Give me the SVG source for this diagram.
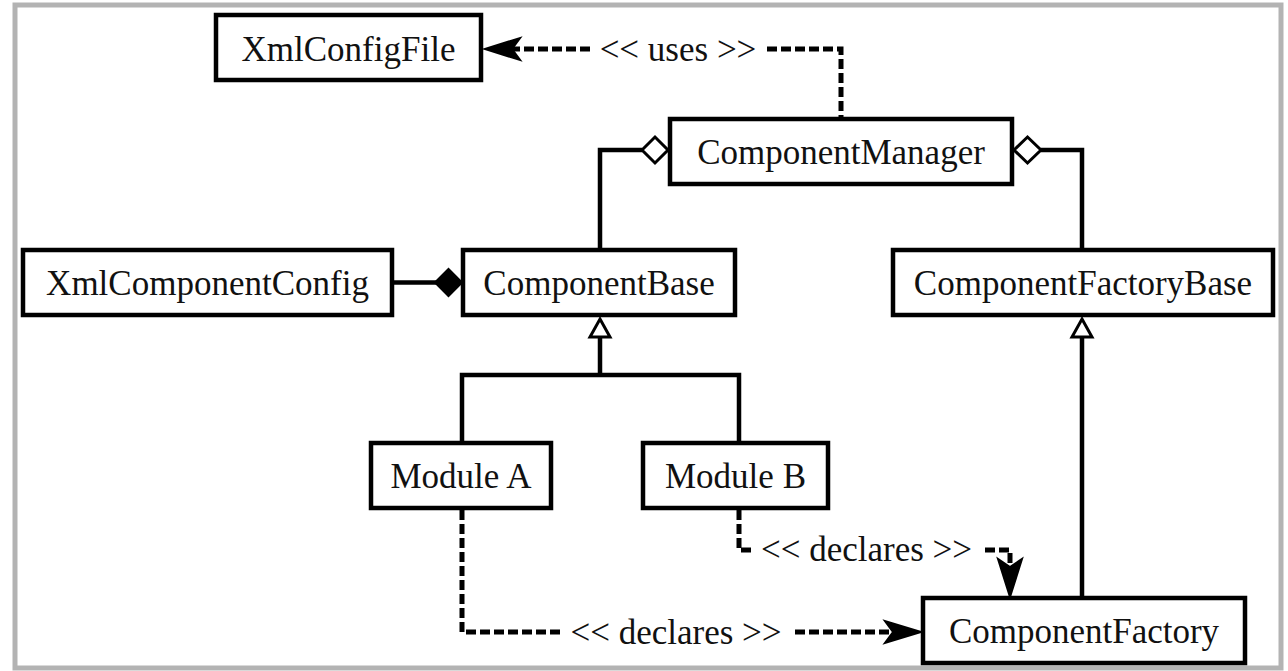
<svg xmlns="http://www.w3.org/2000/svg" width="1288" height="671" viewBox="0 0 1288 671">
<style>
.box{fill:#fff;stroke:#000;stroke-width:4.5}
.lbl{font-family:"Liberation Serif","Times New Roman",serif;font-size:35px;fill:#111;text-anchor:middle}
.solid{fill:none;stroke:#000;stroke-width:4.5}
.dash{fill:none;stroke:#000;stroke-width:5;stroke-dasharray:10 4}
.hollow{fill:#fff;stroke:#000;stroke-width:3}
.filled{fill:#000;stroke:#000;stroke-width:2}
</style>
<rect x="0" y="0" width="1288" height="671" fill="#fff"/>
<rect x="15" y="5" width="1266" height="663" fill="#fff" stroke="#b3b3b3" stroke-width="5"/>

<g id="connectors">
  <!-- uses -->
  <polyline class="dash" points="767,49 841,49 841,117"/>
  <line class="dash" x1="590" y1="49" x2="512" y2="49"/>
  <path class="filled" d="M485,49 L520,38 L512,49 L520,60 Z"/>
  <text class="lbl" x="678" y="61">&lt;&lt; uses &gt;&gt;</text>
  <!-- aggregation ComponentManager - ComponentBase -->
  <polyline class="solid" points="642,150 600,150 600,250"/>
  <polygon class="hollow" points="642,150 655,137 668,150 655,163"/>
  <!-- aggregation ComponentManager - ComponentFactoryBase -->
  <polyline class="solid" points="1041,150 1082,150 1082,250"/>
  <polygon class="hollow" points="1014,150 1027.5,137 1041,150 1027.5,163"/>
  <!-- composition XmlComponentConfig - ComponentBase -->
  <line class="solid" x1="392" y1="282.5" x2="436" y2="282.5"/>
  <polygon class="filled" points="435,282.5 448.5,269 462,282.5 448.5,296"/>
  <!-- generalization modules -> ComponentBase -->
  <polyline class="solid" points="462,443 462,375 739,375 739,443"/>
  <line class="solid" x1="600" y1="375" x2="600" y2="336"/>
  <polygon class="hollow" points="600,319 610,337 590,337"/>
  <!-- generalization ComponentFactory -> ComponentFactoryBase -->
  <line class="solid" x1="1082" y1="598" x2="1082" y2="336"/>
  <polygon class="hollow" points="1082,319 1092,337 1072,337"/>
  <!-- Module A declares -->
  <polyline class="dash" points="462,510 462,632 562,632"/>
  <line class="dash" x1="795" y1="632" x2="893" y2="632"/>
  <path class="filled" d="M921,632 L885,621 L893,632 L885,643 Z"/>
  <text class="lbl" x="676" y="644">&lt;&lt; declares &gt;&gt;</text>
  <!-- Module B declares -->
  <polyline class="dash" points="739,510 739,550 752,550"/>
  <polyline class="dash" points="985,550 1010,550 1010,567"/>
  <path class="filled" d="M1010,597 L998,559 L1010,567 L1022,559 Z"/>
  <text class="lbl" x="866.5" y="561">&lt;&lt; declares &gt;&gt;</text>
</g>

<g id="XmlConfigFile">
  <rect class="box" x="216" y="15" width="265" height="65"/>
  <text class="lbl" x="348.5" y="60.5">XmlConfigFile</text>
</g>
<g id="ComponentManager">
  <rect class="box" x="670" y="119" width="342" height="65"/>
  <text class="lbl" x="841" y="164">ComponentManager</text>
</g>
<g id="XmlComponentConfig">
  <rect class="box" x="23" y="250" width="369" height="65"/>
  <text class="lbl" x="207.5" y="295">XmlComponentConfig</text>
</g>
<g id="ComponentBase">
  <rect class="box" x="463" y="250" width="272" height="65"/>
  <text class="lbl" x="599" y="295">ComponentBase</text>
</g>
<g id="ComponentFactoryBase">
  <rect class="box" x="893" y="250" width="380" height="65"/>
  <text class="lbl" x="1083" y="295">ComponentFactoryBase</text>
</g>
<g id="ModuleA">
  <rect class="box" x="371" y="443" width="180" height="65"/>
  <text class="lbl" x="461" y="488">Module A</text>
</g>
<g id="ModuleB">
  <rect class="box" x="643" y="443" width="185" height="65"/>
  <text class="lbl" x="735.5" y="488">Module B</text>
</g>
<g id="ComponentFactory">
  <rect class="box" x="923" y="598" width="322" height="65"/>
  <text class="lbl" x="1084" y="643">ComponentFactory</text>
</g>
</svg>
